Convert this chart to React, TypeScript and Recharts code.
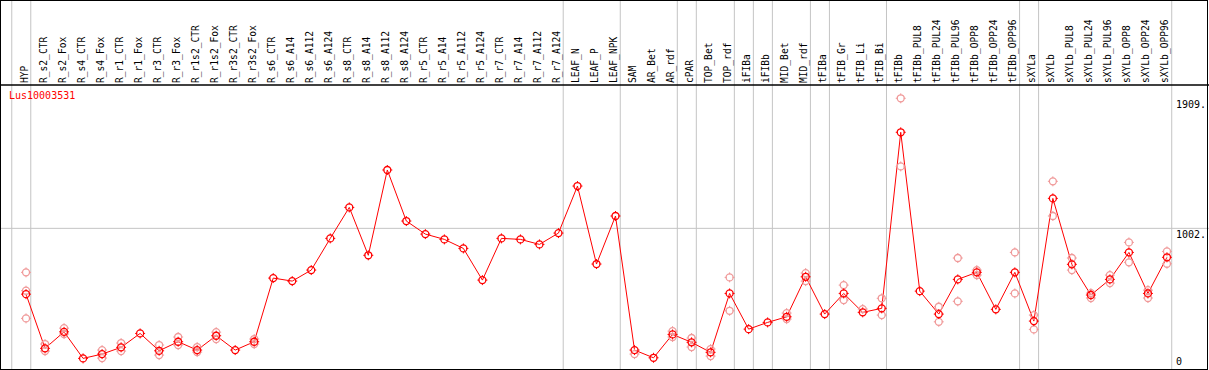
import React from 'react';
import {
    ComposedChart,
    Line,
    XAxis,
    YAxis,
    ReferenceLine
} from 'recharts';

const title = 'Lus10003531';

const categories = [
    'HYP', 'R_s2_CTR', 'R_s2_Fox', 'R_s4_CTR', 'R_s4_Fox', 'R_r1_CTR', 'R_r1_Fox', 'R_r3_CTR', 'R_r3_Fox',
    'R_r1s2_CTR', 'R_r1s2_Fox', 'R_r3s2_CTR', 'R_r3s2_Fox', 'R_s6_CTR', 'R_s6_A14', 'R_s6_A112', 'R_s6_A124',
    'R_s8_CTR', 'R_s8_A14', 'R_s8_A112', 'R_s8_A124', 'R_r5_CTR', 'R_r5_A14', 'R_r5_A112', 'R_r5_A124',
    'R_r7_CTR', 'R_r7_A14', 'R_r7_A112', 'R_r7_A124', 'LEAF_N', 'LEAF_P', 'LEAF_NPK', 'SAM', 'AR_Bet', 'AR_rdf',
    'cPAR', 'TOP_Bet', 'TOP_rdf', 'iFIBa', 'iFIBb', 'MID_Bet', 'MID_rdf', 'tFIBa', 'tFIB_Gr', 'tFIB_Li', 'tFIB_Bi',
    'tFIBb', 'tFIBb_PUL8', 'tFIBb_PUL24', 'tFIBb_PUL96', 'tFIBb_OPP8', 'tFIBb_OPP24', 'tFIBb_OPP96',
    'sXYLa', 'sXYLb', 'sXYLb_PUL8', 'sXYLb_PUL24', 'sXYLb_PUL96', 'sXYLb_OPP8', 'sXYLb_OPP24', 'sXYLb_OPP96'
];

// mean expression per sample
const meanValues = [
    543, 165, 280, 95, 125, 172, 269, 148, 211,
    153, 253, 153, 211, 655, 634, 711, 932,
    1148, 814, 1409, 1053, 962, 925, 862, 641,
    932, 925, 890, 969, 1297, 753, 1088, 153, 99, 262,
    207, 137, 548, 299, 346, 385, 664, 404, 548, 416, 444,
    1672, 564, 404, 646, 695, 437, 695,
    355, 1211, 751, 537, 646, 834, 548, 800
];

// replicates (null where hidden behind the mean)
const repA = [
    695, 195, 306, null, 153, 202, null, 188, 244,
    174, 278, null, 230, null, null, null, null,
    null, null, null, null, null, null, null, null,
    null, null, null, null, null, null, null, null, null, 285,
    237, 160, 660, null, null, 411, 690, null, 606, 439, 514,
    1909, null, 455, 795, 711, null, 834,
    397, 1330, 795, 550, 676, 904, 571, 841
];
const repB = [
    374, 146, 265, null, 97, 146, null, 118, 188,
    139, 230, null, 195, null, null, null, null,
    null, null, null, null, null, null, null, null,
    null, null, null, null, null, null, null, 125, null, 244,
    174, 111, 427, null, null, 369, 634, null, 502, null, 397,
    1434, null, 350, 493, 676, null, 548,
    297, 1088, 711, 516, 620, 765, 516, 755
];
const repC = [567];

// group separators sit just after these sample indexes
const separatorsAfter = [-1, 0, 28, 31, 34, 35, 37, 38, 39, 41, 42, 45, 52, 53, 60];

const yTicks = [0, 1002, 1909];

const data = categories.map((name, i) => ({
    idx: i,
    name,
    mean: meanValues[i],
    r1: repA[i] ?? null,
    r2: repB[i] ?? null,
    r3: repC[i] ?? null
}));

const MONO = '"DejaVu Sans Mono", monospace';
const RED = '#ff0000';
const PINK = '#f09a9a';
const GRID = '#c4c4c4';

const markerDot = (color: string) => (props: any) => {
    const { cx, cy, index, value } = props;
    if (value == null || cy == null || isNaN(cy)) return <g key={`e-${index}`} />;
    const r = 3.5;
    return (
        <g key={`d-${index}`}>
            <circle cx={cx} cy={cy} r={r} fill="none" stroke={color} strokeWidth={1.3} />
            <line x1={cx} y1={cy - r - 1.5} x2={cx} y2={cy - r + 0.5} stroke={color} strokeWidth={1} />
            <line x1={cx} y1={cy + r - 0.5} x2={cx} y2={cy + r + 1.5} stroke={color} strokeWidth={1} />
            <line x1={cx - r - 1.5} y1={cy} x2={cx - r + 0.5} y2={cy} stroke={color} strokeWidth={1} />
            <line x1={cx + r - 0.5} y1={cy} x2={cx + r + 1.5} y2={cy} stroke={color} strokeWidth={1} />
        </g>
    );
};

const renderCategoryTick = (props: any) => {
    const { x, payload, index } = props;
    const label = categories[payload.value];
    if (!label) return <g key={`ct-${index}`} />;
    return (
        <text
            key={`ct-${index}`}
            transform={`translate(${x + 1.5},83) rotate(-90)`}
            textAnchor="start"
            fontFamily={MONO}
            fontSize={9.6}
            fill="#000"
        >
            {label}
        </text>
    );
};

const renderValueTick = (props: any) => {
    const { y, payload, index } = props;
    const v = payload.value;
    return (
        <text key={`vt-${index}`} x={1176} y={Math.min(y + 10, 365)} textAnchor="start" fontFamily={MONO} fontSize={10} fill="#000">
            {v === 0 ? '0' : `${v}.`}
        </text>
    );
};

export default function App() {
    return (
        <div style={{ position: 'fixed', left: 0, top: 0, width: 1209, height: 370, overflow: 'hidden', background: '#fff' }}>
            <ComposedChart
                width={1209}
                height={373}
                data={data}
                margin={{ top: 0, right: 0, left: 0, bottom: 0 }}
            >
                <XAxis
                    dataKey="idx"
                    type="number"
                    domain={[-26 / 19, 1182 / 19]}
                    ticks={categories.map((_, i) => i)}
                    interval={0}
                    height={1}
                    axisLine={false}
                    tickLine={false}
                    tick={renderCategoryTick}
                    allowDataOverflow
                />
                <YAxis
                    orientation="right"
                    mirror
                    width={1}
                    domain={[0, 2594.7]}
                    ticks={yTicks}
                    interval={0}
                    axisLine={false}
                    tickLine={false}
                    tick={renderValueTick}
                    allowDataOverflow
                />
                {separatorsAfter.map(i => (
                    <ReferenceLine key={`sep-${i}`} x={i + 0.25} stroke={GRID} strokeWidth={1} />
                ))}
                <ReferenceLine y={1002} stroke={GRID} strokeWidth={1} />
                <ReferenceLine y={2001.7} stroke="#000" strokeWidth={1.5} />
                <Line dataKey="r1" stroke="none" dot={markerDot(PINK)} activeDot={false} isAnimationActive={false} />
                <Line dataKey="r2" stroke="none" dot={markerDot(PINK)} activeDot={false} isAnimationActive={false} />
                <Line dataKey="r3" stroke="none" dot={markerDot(PINK)} activeDot={false} isAnimationActive={false} />
                <Line
                    dataKey="mean"
                    stroke={RED}
                    strokeWidth={1}
                    dot={markerDot(RED)}
                    activeDot={false}
                    isAnimationActive={false}
                />
            </ComposedChart>
            <div
                style={{
                    position: 'absolute',
                    left: 9,
                    top: 90,
                    fontFamily: MONO,
                    fontSize: 10,
                    color: RED,
                    lineHeight: '12px'
                }}
            >
                {title}
            </div>
            <div
                style={{
                    position: 'absolute',
                    left: 0,
                    top: 0,
                    width: 1208,
                    height: 370,
                    boxSizing: 'border-box',
                    border: '1px solid #000',
                    pointerEvents: 'none'
                }}
            />
        </div>
    );
}
